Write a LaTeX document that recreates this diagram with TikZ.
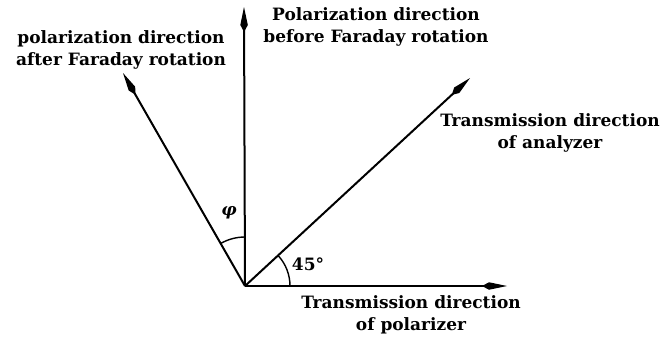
\documentclass[tikz,border=0pt]{standalone}
\usepackage{fontspec}
\setmainfont{DejaVu Serif}
\usetikzlibrary{arrows.meta}
\begin{document}
\begin{tikzpicture}[x=1pt,y=-1pt,
  axis/.style={line width=2pt,-{Kite[length=25pt,width=7.5pt,inset=7pt]}},
  lbl/.style={font=\bfseries\fontsize{17}{22.5}\selectfont,align=center,inner sep=0pt},
  anglbl/.style={font=\bfseries\fontsize{17}{18}\selectfont,inner sep=0pt}]
\useasboundingbox (0,0) rectangle (666,343);
\coordinate (O) at (245,286);
\coordinate (V) at (244,7);
\coordinate (H) at (507,286);
\coordinate (A) at (470,78);
\coordinate (L) at (123,73);
\draw[axis] (O) -- (V);
\draw[axis] (O) -- (H);
\draw[axis] (O) -- (A);
\draw[axis] (O) -- (L);
\draw[line width=1.4pt] (O) ++(0:45) arc[start angle=0,end angle=-42.8,radius=45];
\draw[line width=1.4pt] (O) ++(-90:49) arc[start angle=-90,end angle=-119.8,radius=49];
\node[lbl] (t1) at (376,27) {Polarization direction\\before Faraday rotation};
\node[lbl] (t2) at (121,50) {polarization direction\\after Faraday rotation};
\node[lbl] (t3) at (550,133) {Transmission direction\\of analyzer};
\node[lbl] (t4) at (411,315) {Transmission direction\\of polarizer};
\node[anglbl] (a45) at (308,264) {45°};
\node[anglbl] (phi) at (229,213) {\itshape φ};
\end{tikzpicture}
\end{document}
